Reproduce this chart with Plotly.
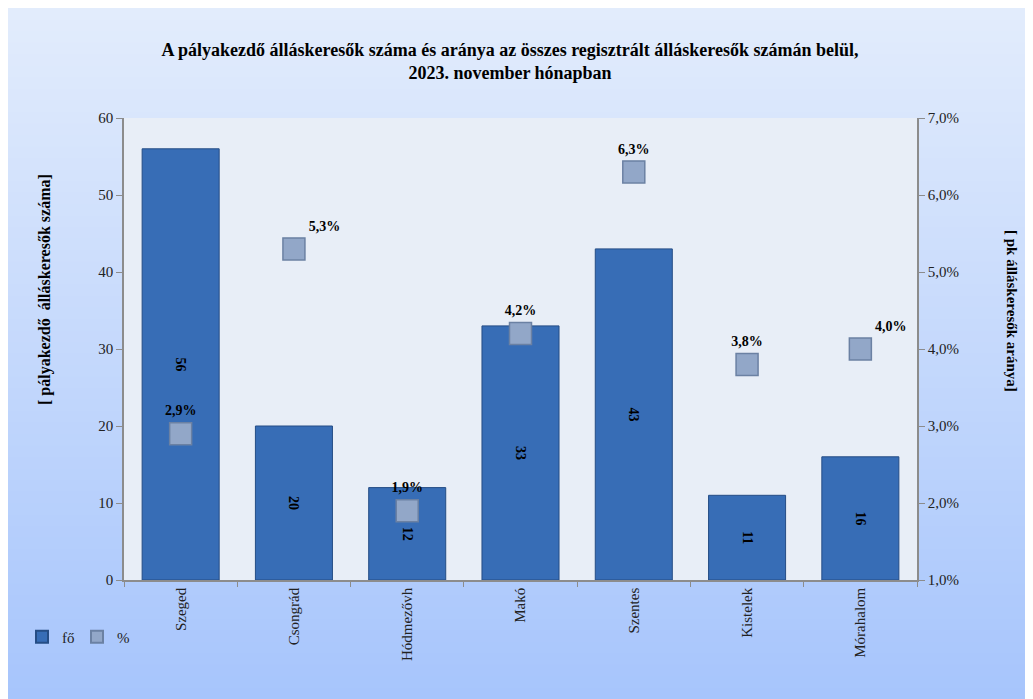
import plotly.graph_objects as go

categories = ["Szeged", "Csongrád", "Hódmezővh", "Makó", "Szentes", "Kistelek", "Mórahalom"]
fo_values = [56, 20, 12, 33, 43, 11, 16]
pct_values = [0.029, 0.053, 0.019, 0.042, 0.063, 0.038, 0.040]
pct_label_pos = ["top center", "top right", "top center", "top center", "top center", "top center", "top right"]

title_text = ("A pályakezdő álláskeresők száma és aránya az összes regisztrált álláskeresők számán belül,"
              "<br>2023. november hónapban")
left_title = "[ pályakezdő  álláskeresők száma]"
right_title = "[ pk álláskeresők aránya]"

OFF = 8  # page body margin
W, H = 1033 - OFF, 699 - OFF
L, R, T, B = 124 - OFF, 917 - OFF, 118 - OFF, 580 - OFF
FONT = "Liberation Serif"


def px_x(px):
    # px given in page coordinates
    return (px - OFF - L) / (R - L)


def px_y(py):
    return (B - (py - OFF)) / (B - T)


fig = go.Figure()

fig.add_trace(go.Bar(
    x=categories, y=fo_values, name="fő",
    marker=dict(color="#376db6", line=dict(color="#254d85", width=1)),
    text=[str(v) for v in fo_values], textposition="inside",
    insidetextanchor="middle", textangle=90, constraintext="none",
    textfont=dict(family=FONT, size=14, color="black", weight="bold"),
    yaxis="y",
))

fig.add_trace(go.Scatter(
    x=categories, y=pct_values, name="%", mode="markers+text",
    marker=dict(symbol="square", size=22, color="#92a7c8",
                line=dict(color="#6b81a3", width=1.5)),
    texttemplate="%{y:.1%}", textposition=pct_label_pos,
    textfont=dict(family=FONT, size=14, color="black", weight="bold"),
    yaxis="y2", cliponaxis=False,
))

# background gradient over the whole paper
shapes = []
top_c = (0xe2, 0xec, 0xfc)
bot_c = (0xa7, 0xc5, 0xfc)
n = 60
x0, x1 = -L / (R - L) - 0.01, (W - L) / (R - L) + 0.01
for i in range(n):
    t = i / (n - 1)
    c = tuple(int(round(top_c[k] + (bot_c[k] - top_c[k]) * t)) for k in range(3))
    ya = H * i / n
    yb = H * (i + 1) / n + 1
    shapes.append(dict(type="rect", xref="paper", yref="paper",
                       x0=x0, x1=x1, y0=(B - yb) / (B - T), y1=(B - ya) / (B - T),
                       fillcolor="rgb(%d,%d,%d)" % c, line=dict(width=0), layer="below"))
shapes.append(dict(type="rect", xref="paper", yref="paper", x0=0, x1=1, y0=0, y1=1,
                   fillcolor="#e8eef7", line=dict(width=0), layer="below"))
fig.update_layout(shapes=shapes)

fig.update_layout(
    width=W, height=H,
    margin=dict(l=L, r=W - R, t=T, b=H - B, pad=0),
    paper_bgcolor="#a7c5fc", plot_bgcolor="rgba(0,0,0,0)",
    separators=", ",
    font=dict(family=FONT, size=13, color="#222"),
    title=dict(text=title_text, x=px_x(510), xref="paper", xanchor="center",
               y=1 - (56 - OFF) / H, yanchor="middle",
               font=dict(family=FONT, size=18, color="black", weight="bold")),
    bargap=0.32,
    showlegend=True,
    legend=dict(orientation="h", x=px_x(22), y=px_y(637), xanchor="left", yanchor="middle",
                bgcolor="rgba(0,0,0,0)", font=dict(family=FONT, size=15, color="#222"),
                itemsizing="constant", traceorder="normal", itemwidth=30,
                entrywidth=10, entrywidthmode="pixels"),
    xaxis=dict(showgrid=False, showline=True, linecolor="#8c8c8c", linewidth=1.5,
               ticks="outside", tickcolor="#8c8c8c", ticklen=5, tickson="boundaries",
               tickangle=-90, tickfont=dict(family=FONT, size=15, color="#222"),
               mirror=False, zeroline=False),
    yaxis=dict(range=[0, 60], dtick=10, showgrid=False, showline=True,
               linecolor="#8c8c8c", linewidth=1.5, ticks="outside", tickcolor="#8c8c8c",
               ticklen=6, tickfont=dict(family=FONT, size=15, color="#222"), zeroline=False,
               title=None),
    yaxis2=dict(range=[0.01, 0.07], dtick=0.01, tickformat=".1%", overlaying="y",
                side="right", showgrid=False, showline=True, linecolor="#8c8c8c",
                linewidth=1.5, ticks="outside", tickcolor="#8c8c8c", ticklen=6,
                tickfont=dict(family=FONT, size=15, color="#222"), zeroline=False),
    annotations=[
        dict(text=left_title, xref="paper", yref="paper", x=px_x(45), y=px_y(290),
             textangle=-90, showarrow=False, xanchor="center", yanchor="middle",
             font=dict(family=FONT, size=16, color="black", weight="bold")),
        dict(text=right_title, xref="paper", yref="paper", x=px_x(1012), y=px_y(311),
             textangle=90, showarrow=False, xanchor="center", yanchor="middle",
             font=dict(family=FONT, size=15, color="black", weight="bold")),
    ],
)

fig.write_html("out.html")
